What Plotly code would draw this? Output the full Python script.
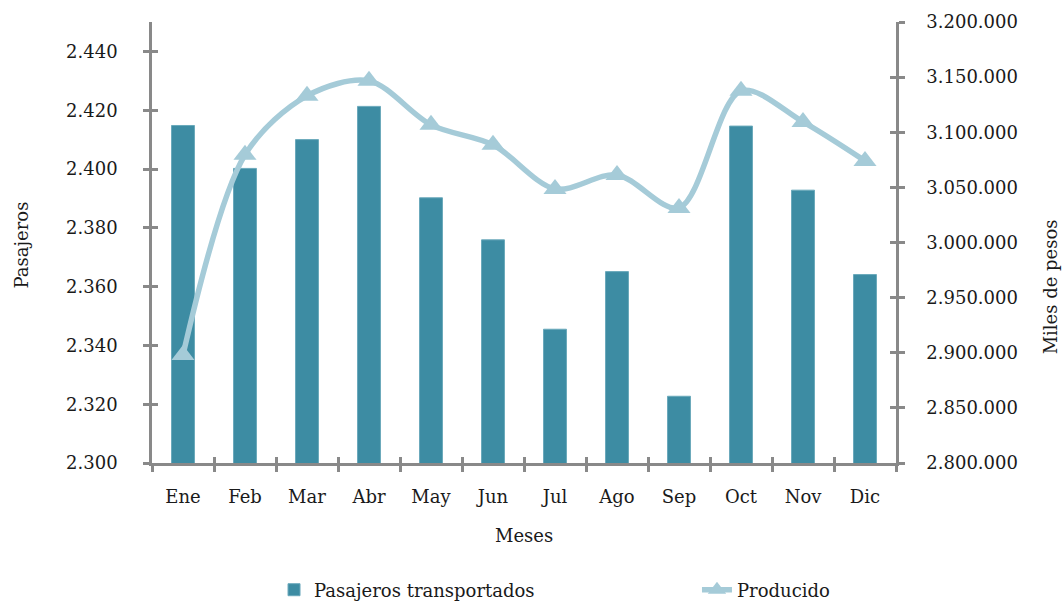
import plotly.graph_objects as go

meses = ["Ene", "Feb", "Mar", "Abr", "May", "Jun", "Jul", "Ago", "Sep", "Oct", "Nov", "Dic"]
pasajeros = [2414.8, 2400.2, 2410.0, 2421.3, 2390.2, 2375.9, 2345.5, 2365.1, 2322.7, 2414.6, 2392.8, 2364.1]
producido = [2898000, 3079500, 3133000, 3146600, 3106700, 3088600, 3048600, 3061300, 3031400, 3137600, 3109400, 3074000]

left_ticks = [2300, 2320, 2340, 2360, 2380, 2400, 2420, 2440]
right_ticks = [2800000, 2850000, 2900000, 2950000, 3000000, 3050000, 3100000, 3150000, 3200000]

FONT = "DejaVu Serif"
AX = "#898989"
TXT = "#1a1a1a"
BAR = "#3d8ca3"
LINE = "#a5cbd8"

fig = go.Figure()
fig.add_trace(go.Bar(
    x=meses, y=pasajeros, name="Pasajeros transportados",
    marker=dict(color=BAR, line=dict(color="#6aa9bb", width=1)),
    yaxis="y", xaxis="x", legend="legend",
))
fig.add_trace(go.Scatter(
    x=meses, y=producido, name="Producido", yaxis="y2", xaxis="x", legend="legend2",
    mode="lines+markers",
    line=dict(color=LINE, width=5.5, shape="spline", smoothing=0.9),
    marker=dict(symbol="triangle-up", size=20, color=LINE),
))

common = dict(showgrid=False, zeroline=False, showline=True, linecolor=AX, linewidth=2.5,
              tickcolor=AX, tickwidth=2.5, ticklen=6, automargin=False,
              tickfont=dict(family=FONT, size=18, color=TXT))
overlay = dict(showticklabels=False, showgrid=False, zeroline=False, showline=False,
               tickcolor=AX, tickwidth=2.5, ticklen=6, ticks="inside", automargin=False)

legfont = dict(family=FONT, size=18, color=TXT)
annfont = dict(family=FONT, size=18, color=TXT)

fig.update_layout(
    width=1063, height=601,
    margin=dict(l=152, r=167, t=22, b=138, autoexpand=False),
    paper_bgcolor="white", plot_bgcolor="white",
    separators=",.",
    bargap=0.63,
    font=dict(family=FONT, size=18, color=TXT),
    xaxis=dict(type="category", categoryarray=meses, range=[-0.5, 11.5],
               ticks="outside", tickson="boundaries", ticklabelstandoff=16, **common),
    xaxis3=dict(overlaying="x", range=[-0.5, 11.5], tick0=-0.5, dtick=1, side="bottom", **overlay),
    yaxis=dict(range=[2300, 2450], tickvals=left_ticks, ticks="outside",
               tickformat=",d", ticklabelstandoff=22, **common),
    yaxis3=dict(overlaying="y", range=[2300, 2450], tickvals=left_ticks, side="left", **overlay),
    yaxis2=dict(overlaying="y", side="right", range=[2800000, 3200000], tickvals=right_ticks,
                ticks="outside", tickformat=",d", ticklabelstandoff=18, **common),
    yaxis4=dict(overlaying="y", side="right", range=[2800000, 3200000], tickvals=right_ticks,
                **overlay),
    legend=dict(orientation="h", x=0.164, xanchor="left", y=-0.288, yanchor="middle",
                font=legfont, bgcolor="rgba(0,0,0,0)"),
    legend2=dict(orientation="h", x=0.7325, xanchor="left", y=-0.288, yanchor="middle",
                 font=legfont, bgcolor="rgba(0,0,0,0)"),
    annotations=[
        dict(text="Meses", xref="paper", yref="paper", x=0.5, y=-0.1655,
             xanchor="center", yanchor="middle", showarrow=False, font=annfont),
        dict(text="Pasajeros", xref="paper", yref="paper", x=-0.175, y=0.495,
             xanchor="center", yanchor="middle", textangle=-90, showarrow=False, font=annfont),
        dict(text="Miles de pesos", xref="paper", yref="paper", x=1.208, y=0.4,
             xanchor="center", yanchor="middle", textangle=-90, showarrow=False, font=annfont),
    ],
)

# invisible helper traces so the overlay tick axes are drawn
fig.add_trace(go.Scatter(x=[None], y=[None], xaxis="x3", yaxis="y3", showlegend=False, hoverinfo="skip"))
fig.add_trace(go.Scatter(x=[None], y=[None], xaxis="x", yaxis="y4", showlegend=False, hoverinfo="skip"))

fig.write_html("out.html", config={"displayModeBar": False},
               post_script="document.body.style.margin='0';document.body.style.overflow='hidden';")
